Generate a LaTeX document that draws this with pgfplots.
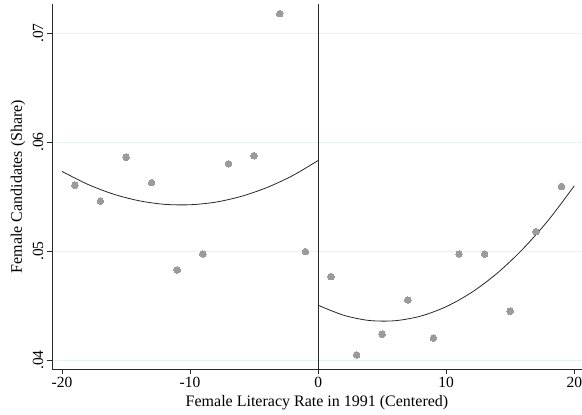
\documentclass[border=0pt]{standalone}
\usepackage{pgfplots}
\pgfplotsset{compat=1.18}
\usepackage{fontspec}
\setmainfont{Liberation Serif}
\definecolor{gridc}{RGB}{232,240,241}
\definecolor{ptc}{RGB}{155,155,155}
\definecolor{linec}{RGB}{40,40,40}
\begin{document}
\begin{tikzpicture}
\begin{axis}[
  scale only axis, width=530pt, height=365pt,
  xmin=-20.78, xmax=20.6, ymin=0.03917, ymax=0.07266,
  scaled y ticks=false, scaled x ticks=false,
  axis lines*=left,
  axis line style={linec, line width=0.6pt},
  xtick={-20,-10,0,10,20}, xticklabels={-20,-10,0,10,20},
  ytick={0.04,0.05,0.06,0.07}, yticklabels={.04,.05,.06,.07},
  tick align=outside, major tick length=5pt,
  tick style={linec, line width=0.6pt},
  ymajorgrids, grid style={gridc, line width=0.9pt},
  ticklabel style={font=\fontsize{15.5}{18}\selectfont},
  yticklabel style={rotate=90, anchor=south},
  xlabel={Female Literacy Rate in 1991 (Centered)},
  ylabel={Female Candidates (Share)},
  label style={font=\fontsize{16}{19}\selectfont},
  xlabel style={at={(axis description cs:0.5,-0.0923)}, anchor=center},
  ylabel style={at={(axis description cs:-0.064,0.5)}, anchor=center},
  clip=false,
]
\addplot[linec, line width=0.8pt] coordinates {(0,0.03917) (0,0.07266)};
\addplot[only marks, mark=*, mark size=3.3pt, mark options={solid, fill=ptc, draw=ptc, line width=0pt}] coordinates {
  (-19,0.05603) (-17,0.05456) (-15,0.0586) (-13,0.05627) (-11,0.04826)
  (-9,0.04972) (-7,0.0580) (-5,0.05874) (-3,0.07177) (-1,0.04994)
  (1,0.04765) (3,0.04046) (5,0.04236) (7,0.0455) (9,0.0420)
  (11,0.04972) (13,0.04972) (15,0.04447) (17,0.05177) (19,0.05593)
};
\addplot[linec, line width=0.8pt, smooth] coordinates {
  (-20,0.05730) (-18,0.05612) (-16,0.05522) (-14,0.05461) (-12,0.05428)
  (-10,0.05424) (-8,0.05448) (-6,0.05501) (-4,0.05582) (-2,0.05691) (0,0.05830)
};
\addplot[linec, line width=0.8pt, smooth] coordinates {
  (0,0.04502) (2,0.04410) (4,0.04362) (6,0.04360) (8,0.04402) (10,0.04489)
  (12,0.04621) (14,0.04798) (16,0.05020) (18,0.05286) (20,0.05598)
};
\end{axis}
\pgfresetboundingbox
\path[use as bounding box] (-52pt,-46pt) rectangle (530pt,369pt);
\end{tikzpicture}
\end{document}
